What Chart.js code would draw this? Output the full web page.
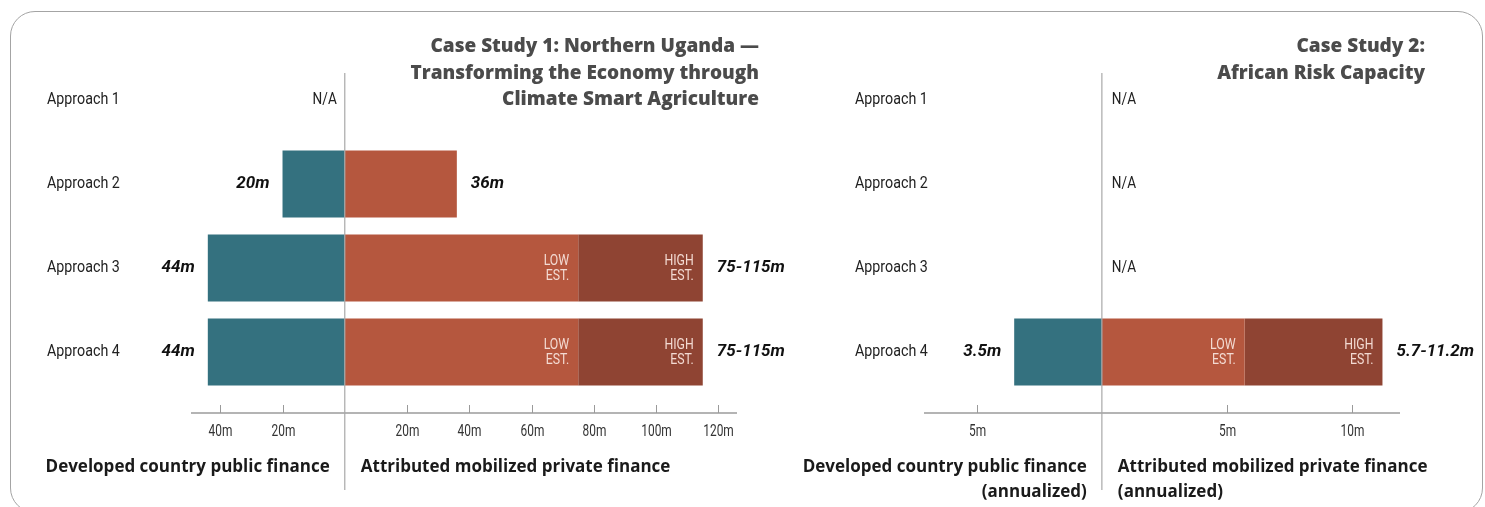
<!DOCTYPE html>
<html>
<head>
<meta charset="utf-8">
<title>Case studies - public vs mobilized private finance</title>
<script src="https://cdn.jsdelivr.net/npm/chart.js@4.4.1/dist/chart.umd.min.js"></script>
<style>
    body { margin: 0; background: #fff; }
    #wrap { position: relative; width: 1485px; height: 507px; overflow: hidden; }
    #frame {
        position: absolute; left: 10px; top: 11px; width: 1473px; height: 502px;
        border: 1.5px solid #a4a4a4; border-radius: 25px; box-sizing: border-box;
    }
    canvas { position: absolute; top: 0; }
    #c1 { left: 0; }
    #c2 { left: 780px; }
    .title {
        position: absolute; text-align: right; color: #4b4b4b;
        font-family: "Open Sans", "Liberation Sans", sans-serif; font-weight: 800;
        font-size: 19px; line-height: 26.5px; white-space: nowrap;
    }
</style>
</head>
<body>
<div id="wrap">
    <div id="frame"></div>
    <canvas id="c1" width="820" height="507"></canvas>
    <canvas id="c2" width="705" height="507"></canvas>
    <div class="title" style="right: 726px; top: 32px;">Case Study 1: Northern Uganda —<br>Transforming the Economy through<br>Climate Smart Agriculture</div>
    <div class="title" style="right: 60px; top: 32px;">Case Study 2:<br>African Risk Capacity</div>
</div>
<script>
// Categories (same for both case studies)
const approaches = ['Approach 1', 'Approach 2', 'Approach 3', 'Approach 4'];

// Case Study 1: Northern Uganda (millions)
const ugandaPublic = [null, 20, 44, 44];
const ugandaPrivateLow = [null, 36, 75, 75];
const ugandaPrivateHigh = [null, null, 115, 115];
const ugandaTicks = [-40, -20, 20, 40, 60, 80, 100, 120];

// Case Study 2: African Risk Capacity (millions, annualized)
const arcPublic = [null, null, null, 3.5];
const arcPrivateLow = [null, null, null, 5.7];
const arcPrivateHigh = [null, null, null, 11.2];
const arcTicks = [-5, 5, 10];

const BLUE = '#34717f';
const RED = '#b5573e';
const DARK_RED = '#8f4433';
const SANS = 'Roboto, "Liberation Sans", sans-serif';
const BOLD = '"Open Sans", "Liberation Sans", sans-serif';

// No condensed face is installed, so squeeze regular text horizontally
function narrowText(ctx, text, x, y, align, sx) {
    ctx.save();
    ctx.translate(x, y);
    ctx.scale(sx, 1);
    ctx.textAlign = align;
    ctx.fillText(text, 0, 0);
    ctx.restore();
}

// Draws category labels, zero line, axis with ticks, value labels, N/A and footer labels
const decorPlugin = {
    id: 'decor',
    afterDatasetsDraw(chart, args, opts) {
        const ctx = chart.ctx;
        const xs = chart.scales.x;
        const ys = chart.scales.y;
        const area = chart.chartArea;
        const zero = xs.getPixelForValue(0);
        const axisY = area.bottom + 19;

        ctx.save();
        ctx.textBaseline = 'middle';

        // category labels
        ctx.font = `17px ${SANS}`;
        ctx.fillStyle = '#222';
        chart.data.labels.forEach((lab, i) => {
            narrowText(ctx, lab, opts.labelX, ys.getPixelForValue(i), 'left', 0.84);
        });

        // axis line, tick marks and tick labels
        ctx.strokeStyle = '#b4b4b4';
        ctx.lineWidth = 2;
        ctx.beginPath();
        ctx.moveTo(xs.getPixelForValue(opts.axisMin), axisY);
        ctx.lineTo(area.right, axisY);
        ctx.stroke();
        ctx.strokeStyle = '#9a9a9a';
        ctx.lineWidth = 1;
        ctx.font = `17px ${SANS}`;
        ctx.fillStyle = '#333';
        xs.ticks.forEach(t => {
            const px = Math.round(xs.getPixelForValue(t.value)) + 0.5;
            ctx.beginPath();
            ctx.moveTo(px, axisY - 8);
            ctx.lineTo(px, axisY);
            ctx.stroke();
            narrowText(ctx, `${Math.abs(t.value)}m`, px, axisY + 19, 'center', 0.7);
        });

        // zero line
        ctx.strokeStyle = '#a8a8a8';
        ctx.lineWidth = 1.2;
        ctx.beginPath();
        ctx.moveTo(zero, 73);
        ctx.lineTo(zero, 490);
        ctx.stroke();

        approaches.forEach((cat, i) => {
            const cy = ys.getPixelForValue(i);
            const pub = opts.pub[i];
            const low = opts.low[i];
            const high = opts.high[i];

            if (pub == null && low == null) {
                ctx.font = `17px ${SANS}`;
                ctx.fillStyle = '#222';
                if (opts.naSide === 'left') {
                    narrowText(ctx, 'N/A', zero - 8, cy, 'right', 0.8);
                } else {
                    narrowText(ctx, 'N/A', zero + 10, cy, 'left', 0.8);
                }
                return;
            }

            ctx.font = `italic bold 17px ${SANS}`;
            ctx.fillStyle = '#111';
            if (pub != null) {
                ctx.textAlign = 'right';
                ctx.fillText(`${pub}m`, xs.getPixelForValue(-pub) - 13, cy);
            }
            if (low != null) {
                ctx.textAlign = 'left';
                const end = high != null ? high : low;
                const txt = high != null ? `${low}-${high}m` : `${low}m`;
                ctx.fillText(txt, xs.getPixelForValue(end) + 14, cy);
            }

            // LOW / HIGH estimate tags inside the bars
            if (high != null) {
                ctx.font = `15px ${SANS}`;
                ctx.fillStyle = '#f3dad2';
                const lx = xs.getPixelForValue(low) - 9;
                const hx = xs.getPixelForValue(high) - 9;
                narrowText(ctx, 'LOW', lx, cy - 7, 'right', 0.82);
                narrowText(ctx, 'EST.', lx, cy + 8, 'right', 0.82);
                narrowText(ctx, 'HIGH', hx, cy - 7, 'right', 0.82);
                narrowText(ctx, 'EST.', hx, cy + 8, 'right', 0.82);
            }
        });

        // footer labels either side of the zero line
        ctx.font = `bold 17px ${BOLD}`;
        ctx.fillStyle = '#1a1a1a';
        opts.footLeft.forEach((line, k) => {
            ctx.textAlign = 'right';
            ctx.fillText(line, zero - 15, 467 + k * 25);
        });
        opts.footRight.forEach((line, k) => {
            ctx.textAlign = 'left';
            ctx.fillText(line, zero + 16, 467 + k * 25);
        });

        ctx.restore();
    }
};

function makeChart(canvasId, pub, low, high, ticks, xMin, xMax, axisMin, yWidth, padLeft, padRight, naSide, footLeft, footRight) {
    const ctx = document.getElementById(canvasId).getContext('2d');
    return new Chart(ctx, {
        type: 'bar',
        data: {
            labels: approaches,
            datasets: [
                {
                    label: 'Developed country public finance',
                    data: pub.map(v => v == null ? null : [-v, 0]),
                    backgroundColor: BLUE
                },
                {
                    label: 'Attributed mobilized private finance (low est.)',
                    data: low.map(v => v == null ? null : [0, v]),
                    backgroundColor: RED
                },
                {
                    label: 'Attributed mobilized private finance (high est.)',
                    data: high.map((v, i) => v == null ? null : [low[i], v]),
                    backgroundColor: DARK_RED
                }
            ]
        },
        options: {
            indexAxis: 'y',
            responsive: false,
            animation: false,
            layout: { padding: { left: padLeft, right: padRight, top: 58, bottom: 0 } },
            datasets: { bar: { grouped: false, barPercentage: 0.8, categoryPercentage: 1.0, borderWidth: 0 } },
            scales: {
                x: {
                    type: 'linear',
                    min: xMin,
                    max: xMax,
                    afterBuildTicks: scale => { scale.ticks = ticks.map(v => ({ value: v })); },
                    afterFit: scale => { scale.height = 113; },
                    grid: { display: false, drawTicks: false },
                    border: { display: false },
                    ticks: { display: false }
                },
                y: {
                    afterFit: scale => { scale.width = yWidth; },
                    grid: { display: false, drawTicks: false },
                    border: { display: false },
                    ticks: { display: false }
                }
            },
            plugins: {
                legend: { display: false },
                tooltip: { enabled: false },
                decor: { pub, low, high, naSide, footLeft, footRight, axisMin, labelX: padLeft }
            }
        },
        plugins: [decorPlugin]
    });
}

// Case Study 1 chart (canvas is wider than its half so the right-hand label is not cut)
makeChart('c1', ugandaPublic, ugandaPrivateLow, ugandaPrivateHigh, ugandaTicks, -49.4, 126, -49.4,
    144, 47, 83, 'left',
    ['Developed country public finance'], ['Attributed mobilized private finance']);

// Case Study 2 chart
makeChart('c2', arcPublic, arcPrivateLow, arcPrivateHigh, arcTicks, -7.1, 11.9, -7.1,
    69, 75, 85, 'right',
    ['Developed country public finance', '(annualized)'], ['Attributed mobilized private finance', '(annualized)']);
</script>
</body>
</html>
